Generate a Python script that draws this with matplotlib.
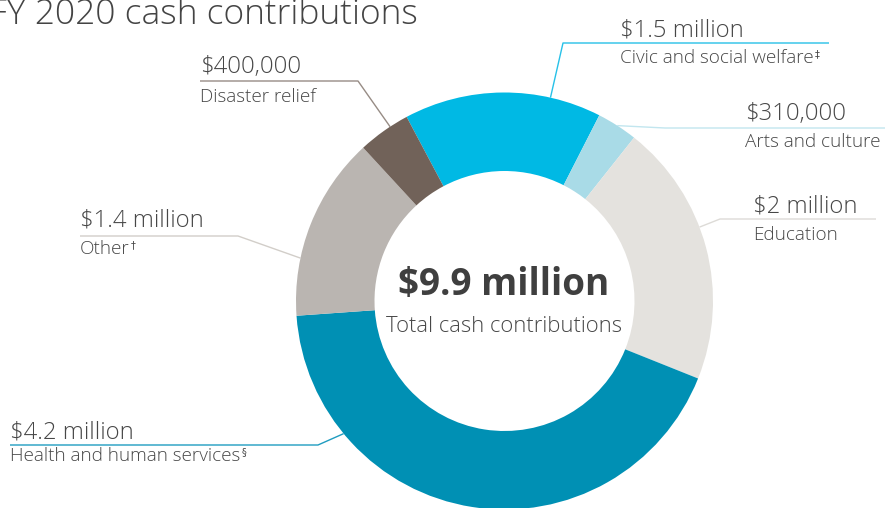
import numpy as np
import matplotlib.pyplot as plt

plt.rcParams['font.family'] = ['Open Sans', 'DejaVu Sans']

W, H = 885, 508

# contributions by cause, in $ millions (clockwise from the top)
categories = ['Civic and social welfare', 'Arts and culture', 'Education',
              'Health and human services', 'Other', 'Disaster relief']
amounts = [1.5, 0.31, 2.0, 4.2, 1.4, 0.4]
value_labels = ['$1.5 million', '$310,000', '$2 million',
                '$4.2 million', '$1.4 million', '$400,000']
footnotes = ['\u2021', '', '', '\u00a7', '\u2020', '']
total_label = '$9.9 million'
total_caption = 'Total cash contributions'
title = 'FY 2020 cash contributions'

colors = ['#00b9e4', '#a9dbe7', '#e4e2de', '#0090b4', '#bab5b1', '#716259']
line_colors = ['#27c1e8', '#c2e6ef', '#dddbd7', '#1f9cc0', '#d2cec9', '#978c85']
text_color = '#474747'

# label layout in pixels from the top-left corner:
# text x, value baseline, caption baseline, underline y, underline x0, x1,
# elbow on the left?, where along the wedge the leader lands (0..1)
layout = [
    (620, 36, 63, 43, 563, 829, True, 0.26),
    (745, 120, 147, 128, 665, 885, True, 0.5),
    (753, 212, 240, 219, 720, 876, True, 0.58),
    (10, 438, 461, 445, 10, 318, False, 0.23),
    (80, 227, 254, 236, 80, 238, False, 0.69),
    (200, 73, 102, 81, 200, 358, False, 0.36),
]

cx, cy = 504.5, 301
r_out, r_in = 208.5, 130


def Y(y):
    return H - y


fig = plt.figure(figsize=(W / 100, H / 100), dpi=100)
ax = fig.add_axes([0, 0, 1, 1])

wedges, _ = ax.pie(amounts, colors=colors, startangle=118, counterclock=False,
                   center=(cx, Y(cy)), radius=r_out,
                   wedgeprops=dict(width=r_out - r_in, linewidth=0))
for w in wedges:
    w.set_zorder(3)

ax.set_xlim(0, W)
ax.set_ylim(0, H)
ax.set_aspect('equal')
ax.axis('off')

subs = []
for i, w in enumerate(wedges):
    tx, vy, sy, uy, x0, x1, elbow_left, frac = layout[i]
    ang = np.radians(w.theta1 + frac * (w.theta2 - w.theta1))
    ex = cx + r_out * np.cos(ang)
    ey = Y(cy) + r_out * np.sin(ang)
    bx = x0 if elbow_left else x1
    ax.plot([x1 if elbow_left else x0, bx, ex], [Y(uy), Y(uy), ey],
            color=line_colors[i], lw=1.0, zorder=2, solid_capstyle='butt')
    ax.text(tx, Y(vy), value_labels[i], fontsize=17.2, fontweight='light',
            color=text_color, ha='left', va='baseline')
    t = ax.text(tx, Y(sy), categories[i], fontsize=13.6, fontweight='light',
                color=text_color, ha='left', va='baseline')
    subs.append(t)

# centre total
ax.text(cx - 1, Y(295), total_label, fontsize=26.6, fontweight='bold',
        color='#3f3f3f', ha='center', va='baseline')
ax.text(cx, Y(332), total_caption, fontsize=15.8, fontweight='light',
        color=text_color, ha='center', va='baseline')

ax.text(418, Y(24), title, fontsize=25.5, fontweight='light', color='#444444',
        ha='right', va='baseline')

# footnote marks as small superscripts after the category names
fig.canvas.draw()
renderer = fig.canvas.get_renderer()
inv = ax.transData.inverted()
for t, mark in zip(subs, footnotes):
    if not mark:
        continue
    bb = t.get_window_extent(renderer)
    x_end, _ = inv.transform((bb.x1, bb.y0))
    x, y = t.get_position()
    ax.text(x_end + 1, y + 6, mark, fontsize=7, color=text_color,
            ha='left', va='baseline', family=['DejaVu Sans'])

fig.savefig('out.png', dpi=100)
